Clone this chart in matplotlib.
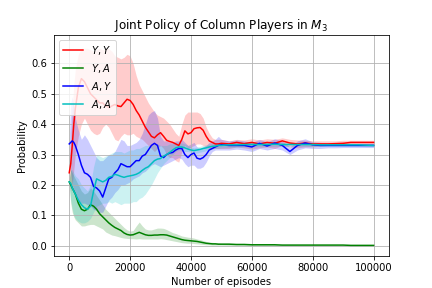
import matplotlib
matplotlib.use("Agg")
import matplotlib.pyplot as plt
import numpy as np

# episodes at which the curves were sampled
episodes = [0, 500, 1000, 1500, 2000, 3000, 4000, 5000, 6000, 7000, 8000, 9000, 10000,
            11000, 12000, 13000, 14000, 15000, 16000, 17000, 18000, 19000, 20000,
            21000, 22000, 23000, 24000, 25000, 26000, 27000, 28000, 29000, 30000,
            31000, 32000, 33000, 34000, 35000, 36000, 37000, 38000, 39000, 40000,
            41000, 42000, 43000, 44000, 45000, 46000, 47000, 48000, 49000, 50000,
            52500, 55000, 57500, 60000, 62500, 65000, 67500, 70000, 72500, 75000,
            77500, 80000, 82500, 85000, 87500, 90000, 92500, 95000, 97500, 100000]

# Y,Y
yy_mean = [0.24, 0.27, 0.33, 0.40, 0.45, 0.52, 0.55, 0.54, 0.52, 0.50, 0.49, 0.48, 0.47,
           0.47, 0.46, 0.455, 0.46, 0.465, 0.46, 0.458, 0.47, 0.482, 0.478,
           0.465, 0.445, 0.43, 0.41, 0.39, 0.375, 0.36, 0.355, 0.365, 0.372,
           0.36, 0.347, 0.343, 0.34, 0.335, 0.33, 0.35, 0.378, 0.368, 0.372,
           0.385, 0.388, 0.389, 0.38, 0.36, 0.345, 0.34, 0.335, 0.335, 0.337,
           0.335, 0.34, 0.336, 0.34, 0.335, 0.34, 0.337, 0.345, 0.338, 0.335,
           0.338, 0.335, 0.335, 0.335, 0.336, 0.337, 0.34, 0.34, 0.34, 0.34]
yy_lo = [0.22, 0.18, 0.20, 0.25, 0.30, 0.36, 0.40, 0.42, 0.40, 0.38, 0.37, 0.365, 0.37,
         0.39, 0.40, 0.39, 0.37, 0.35, 0.345, 0.36, 0.37, 0.365, 0.365,
         0.37, 0.36, 0.355, 0.35, 0.34, 0.33, 0.32, 0.31, 0.32, 0.33,
         0.32, 0.30, 0.29, 0.29, 0.28, 0.275, 0.31, 0.33, 0.32, 0.325,
         0.33, 0.335, 0.335, 0.33, 0.325, 0.32, 0.322, 0.32, 0.32, 0.32,
         0.32, 0.325, 0.322, 0.318, 0.322, 0.325, 0.32, 0.33, 0.325, 0.322,
         0.325, 0.325, 0.328, 0.33, 0.33, 0.332, 0.333, 0.333, 0.333, 0.333]
yy_hi = [0.26, 0.36, 0.45, 0.53, 0.58, 0.63, 0.65, 0.65, 0.65, 0.645, 0.64, 0.645, 0.65,
         0.645, 0.65, 0.648, 0.64, 0.625, 0.62, 0.615, 0.62, 0.63, 0.625,
         0.60, 0.56, 0.53, 0.51, 0.49, 0.47, 0.455, 0.44, 0.43, 0.425,
         0.42, 0.41, 0.40, 0.385, 0.37, 0.36, 0.40, 0.43, 0.44, 0.44,
         0.44, 0.44, 0.435, 0.42, 0.39, 0.37, 0.355, 0.35, 0.35, 0.35,
         0.345, 0.35, 0.348, 0.352, 0.348, 0.352, 0.35, 0.355, 0.35, 0.348,
         0.347, 0.345, 0.345, 0.345, 0.345, 0.347, 0.347, 0.347, 0.347, 0.347]

# Y,A
ya_mean = [0.21, 0.20, 0.19, 0.18, 0.17, 0.14, 0.12, 0.115, 0.12, 0.135, 0.13, 0.12, 0.105,
           0.095, 0.085, 0.075, 0.067, 0.06, 0.055, 0.05, 0.042, 0.037, 0.035,
           0.036, 0.04, 0.044, 0.04, 0.036, 0.034, 0.034, 0.035, 0.035, 0.036,
           0.036, 0.035, 0.032, 0.029, 0.026, 0.023, 0.02, 0.018, 0.017, 0.016,
           0.015, 0.014, 0.012, 0.01, 0.008, 0.007, 0.006, 0.006, 0.005, 0.005,
           0.005, 0.004, 0.004, 0.003, 0.003, 0.003, 0.003, 0.002, 0.002, 0.002,
           0.002, 0.002, 0.002, 0.002, 0.002, 0.002, 0.001, 0.001, 0.001, 0.001]
ya_lo = [0.20, 0.14, 0.11, 0.095, 0.085, 0.075, 0.065, 0.065, 0.068, 0.07, 0.07, 0.065, 0.06,
         0.055, 0.045, 0.04, 0.035, 0.033, 0.03, 0.027, 0.025, 0.024, 0.023,
         0.023, 0.022, 0.023, 0.022, 0.022, 0.022, 0.022, 0.022, 0.022, 0.023,
         0.022, 0.02, 0.018, 0.016, 0.014, 0.012, 0.01, 0.009, 0.008, 0.008,
         0.007, 0.006, 0.005, 0.004, 0.003, 0.003, 0.002, 0.002, 0.002, 0.002,
         0.001, 0.001, 0.001, 0.001, 0.001, 0.001, 0.001, 0.001, 0.001, 0.0,
         0.0, 0.0, 0.0, 0.0, 0.0, 0.0, 0.0, 0.0, 0.0, 0.0]
ya_hi = [0.22, 0.25, 0.24, 0.23, 0.22, 0.20, 0.18, 0.17, 0.175, 0.19, 0.18, 0.165, 0.15,
         0.135, 0.12, 0.11, 0.10, 0.09, 0.08, 0.07, 0.06, 0.052, 0.048,
         0.05, 0.065, 0.078, 0.065, 0.055, 0.052, 0.052, 0.055, 0.058, 0.058,
         0.057, 0.053, 0.048, 0.043, 0.04, 0.036, 0.032, 0.03, 0.028, 0.027,
         0.025, 0.022, 0.02, 0.017, 0.014, 0.012, 0.011, 0.01, 0.009, 0.008,
         0.008, 0.007, 0.006, 0.005, 0.005, 0.005, 0.004, 0.004, 0.004, 0.003,
         0.003, 0.003, 0.003, 0.003, 0.003, 0.002, 0.002, 0.002, 0.002, 0.002]

# A,Y
ay_mean = [0.335, 0.34, 0.345, 0.34, 0.33, 0.30, 0.265, 0.24, 0.235, 0.225, 0.195, 0.19, 0.18,
           0.16, 0.19, 0.22, 0.225, 0.24, 0.25, 0.27, 0.265, 0.26, 0.26,
           0.27, 0.28, 0.28, 0.295, 0.30, 0.315, 0.33, 0.337, 0.33, 0.295,
           0.29, 0.30, 0.305, 0.307, 0.315, 0.32, 0.32, 0.30, 0.29, 0.30,
           0.305, 0.288, 0.285, 0.29, 0.30, 0.315, 0.32, 0.325, 0.33, 0.332,
           0.33, 0.33, 0.33, 0.325, 0.337, 0.328, 0.338, 0.33, 0.31, 0.33,
           0.338, 0.332, 0.33, 0.33, 0.33, 0.33, 0.33, 0.33, 0.33, 0.33]
ay_lo = [0.32, 0.24, 0.20, 0.18, 0.17, 0.15, 0.14, 0.14, 0.135, 0.13, 0.12, 0.115, 0.11,
         0.11, 0.13, 0.15, 0.16, 0.175, 0.185, 0.20, 0.20, 0.205, 0.21,
         0.22, 0.225, 0.23, 0.24, 0.245, 0.255, 0.265, 0.27, 0.265, 0.26,
         0.265, 0.27, 0.275, 0.28, 0.285, 0.29, 0.285, 0.27, 0.26, 0.265,
         0.265, 0.255, 0.255, 0.26, 0.275, 0.295, 0.31, 0.315, 0.315, 0.315,
         0.315, 0.318, 0.315, 0.31, 0.32, 0.315, 0.32, 0.315, 0.30, 0.315,
         0.322, 0.32, 0.32, 0.322, 0.322, 0.323, 0.323, 0.323, 0.323, 0.323]
ay_hi = [0.35, 0.47, 0.49, 0.46, 0.42, 0.38, 0.35, 0.365, 0.35, 0.33, 0.31, 0.29, 0.28,
         0.28, 0.29, 0.30, 0.30, 0.31, 0.33, 0.35, 0.345, 0.33, 0.33,
         0.335, 0.34, 0.35, 0.37, 0.40, 0.43, 0.44, 0.445, 0.42, 0.36,
         0.345, 0.345, 0.34, 0.34, 0.345, 0.345, 0.35, 0.34, 0.33, 0.335,
         0.34, 0.325, 0.32, 0.325, 0.33, 0.34, 0.345, 0.35, 0.36, 0.35,
         0.345, 0.348, 0.345, 0.34, 0.35, 0.342, 0.352, 0.345, 0.325, 0.345,
         0.352, 0.342, 0.34, 0.338, 0.338, 0.337, 0.337, 0.337, 0.337, 0.337]

# A,A
aa_mean = [0.21, 0.205, 0.19, 0.18, 0.17, 0.15, 0.135, 0.125, 0.12, 0.13, 0.18, 0.22, 0.215,
           0.21, 0.215, 0.225, 0.228, 0.235, 0.232, 0.228, 0.225, 0.228, 0.23,
           0.232, 0.235, 0.24, 0.248, 0.255, 0.26, 0.27, 0.28, 0.285, 0.287,
           0.295, 0.30, 0.307, 0.315, 0.322, 0.325, 0.325, 0.322, 0.318, 0.315,
           0.313, 0.315, 0.317, 0.32, 0.322, 0.325, 0.327, 0.328, 0.33, 0.33,
           0.332, 0.332, 0.333, 0.333, 0.333, 0.333, 0.334, 0.333, 0.333, 0.333,
           0.333, 0.333, 0.332, 0.332, 0.332, 0.332, 0.332, 0.332, 0.331, 0.33]
aa_lo = [0.20, 0.15, 0.12, 0.10, 0.09, 0.08, 0.075, 0.075, 0.08, 0.09, 0.11, 0.13, 0.135,
         0.14, 0.14, 0.145, 0.14, 0.145, 0.14, 0.135, 0.14, 0.14, 0.14,
         0.145, 0.145, 0.155, 0.16, 0.17, 0.185, 0.20, 0.22, 0.24, 0.255,
         0.27, 0.28, 0.29, 0.30, 0.31, 0.315, 0.315, 0.31, 0.31, 0.308,
         0.305, 0.305, 0.308, 0.31, 0.313, 0.315, 0.318, 0.32, 0.32, 0.322,
         0.323, 0.324, 0.325, 0.325, 0.326, 0.326, 0.327, 0.327, 0.327, 0.327,
         0.327, 0.327, 0.327, 0.327, 0.327, 0.327, 0.327, 0.327, 0.326, 0.326]
aa_hi = [0.22, 0.25, 0.25, 0.24, 0.23, 0.22, 0.20, 0.19, 0.18, 0.20, 0.26, 0.30, 0.295,
         0.29, 0.295, 0.30, 0.305, 0.31, 0.31, 0.31, 0.305, 0.31, 0.315,
         0.315, 0.32, 0.32, 0.325, 0.33, 0.33, 0.33, 0.335, 0.335, 0.33,
         0.33, 0.33, 0.335, 0.335, 0.338, 0.338, 0.338, 0.335, 0.33, 0.325,
         0.322, 0.325, 0.327, 0.33, 0.332, 0.335, 0.337, 0.338, 0.338, 0.338,
         0.34, 0.34, 0.34, 0.34, 0.34, 0.34, 0.341, 0.34, 0.34, 0.339,
         0.339, 0.339, 0.338, 0.338, 0.337, 0.337, 0.337, 0.336, 0.335, 0.334]

labels = ["$Y,Y$", "$Y,A$", "$A,Y$", "$A,A$"]
colors = ["r", "g", "b", "c"]
means = [yy_mean, ya_mean, ay_mean, aa_mean]
los = [yy_lo, ya_lo, ay_lo, aa_lo]
his = [yy_hi, ya_hi, ay_hi, aa_hi]

fig, ax = plt.subplots(figsize=(6, 4), dpi=72)
x = np.array(episodes)
for m, lo, hi, c, lab in zip(means, los, his, colors, labels):
    ax.plot(x, m, color=c, label=lab, lw=1.5)
    ax.fill_between(x, lo, hi, color=c, alpha=0.2, lw=0)

ax.set_xlim(-5000, 105000)
ax.set_ylim(-0.035, 0.695)
ax.grid(True)
ax.legend(loc="upper left")
ax.set_xlabel("Number of episodes")
ax.set_ylabel("Probability")
ax.set_title("Joint Policy of Column Players in $M_3$")
fig.savefig("out.png", dpi=72)
